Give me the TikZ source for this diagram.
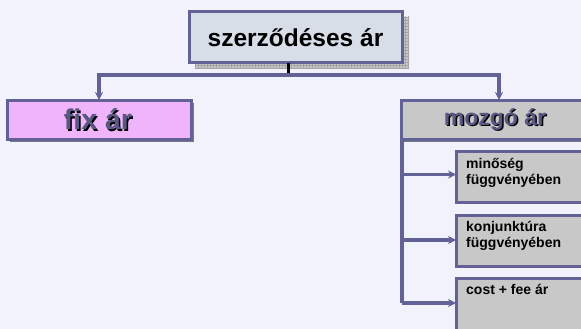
\documentclass[tikz,border=0pt]{standalone}
\usepackage{fontspec}
\setmainfont{Liberation Sans}
\usetikzlibrary{arrows.meta,patterns}
\definecolor{bg}{RGB}{242,242,252}
\definecolor{bord}{RGB}{98,98,150}
\definecolor{topfill}{RGB}{216,222,232}
\definecolor{pinkfill}{RGB}{240,180,250}
\definecolor{grayfill}{RGB}{200,200,200}
\definecolor{ltext}{RGB}{88,88,130}
\definecolor{shadowc}{RGB}{120,120,140}
\tikzset{
  box/.style={draw=bord, line width=3pt, inner sep=0pt, outer sep=0pt},
  conn/.style={draw=bord, line width=3.2pt, -{Stealth[length=8pt,width=8pt]}},
  plainconn/.style={draw=bord, line width=3.2pt},
  subbox/.style={box, fill=grayfill, minimum width=140pt, anchor=north west},
  subtext/.style={anchor=north west, font=\bfseries\fontsize{14}{16}\selectfont, align=left, inner sep=0pt}
}
\begin{document}
\begin{tikzpicture}[x=1pt,y=-1pt]
\useasboundingbox (0,0) rectangle (581,329);
\clip (0,0) rectangle (581,329);
\fill[bg] (0,0) rectangle (581,329);
% top shadow
\fill[gray!45] (195,17) rectangle (409,69);
\pattern[pattern=grid, pattern color=gray!70] (195,17) rectangle (409,69);
\node[box, fill=topfill, minimum width=213pt, minimum height=51pt, font=\bfseries\fontsize{24.5}{28}\selectfont] (top) at (295.5,37.5) {szerződéses ár};
% fix shadow & box
\fill[shadowc] (10,103) rectangle (194,142);
\node[box, fill=pinkfill, minimum width=184pt, minimum height=39pt] (fix) at (99,119.5) {};
\node[font=\bfseries\fontsize{28.5}{30}\selectfont, text=black] (fixsh) at (99.5,121) {fix ár};
\node[font=\bfseries\fontsize{28.5}{30}\selectfont, text=ltext] (fixt) at (98,119.5) {fix ár};
% mozgo box
\fill[shadowc] (404,103) rectangle (600,142);
\node[box, fill=grayfill, minimum width=196pt, minimum height=39pt] (mozgo) at (499,119.5) {};
\node[font=\bfseries\fontsize{23}{26}\selectfont, text=black] (mozsh) at (496.5,121) {mozgó ár};
\node[font=\bfseries\fontsize{23}{26}\selectfont, text=ltext] (mozt) at (495,119.5) {mozgó ár};
% sub boxes
\node[subbox, minimum height=51pt] (s1) at (456,151.5) {};
\node[subbox, minimum height=51pt] (s2) at (456,215) {};
\node[subbox, minimum height=70pt] (s3) at (456,278) {};
\node[subtext] (t1) at (466,158) {minőség\\függvényében};
\node[subtext] (t2) at (466,221) {konjunktúra\\függvényében};
\node[subtext] (t3) at (466,284) {cost + fee ár};
% connectors
\coordinate (stub) at (288,63);
\coordinate (bus) at (288,75);
\draw[black, line width=3pt] (stub) -- (bus);
\draw[conn] (bus) -| (fix.north);
\draw[conn] (bus) -| (mozgo.north);
\coordinate (brk) at (402,303);
\draw[plainconn] (mozgo.south west) ++(1,0) coordinate (bt) -- (brk);
\draw[conn] (bt |- s1.west) ++(0,-2.5) coordinate (b1) -- (b1 -| s1.west);
\draw[conn] (bt |- s2.west) ++(0,-0.5) coordinate (b2) -- (b2 -| s2.west);
\draw[conn] (brk) -- (brk -| s3.west);
\end{tikzpicture}
\end{document}
